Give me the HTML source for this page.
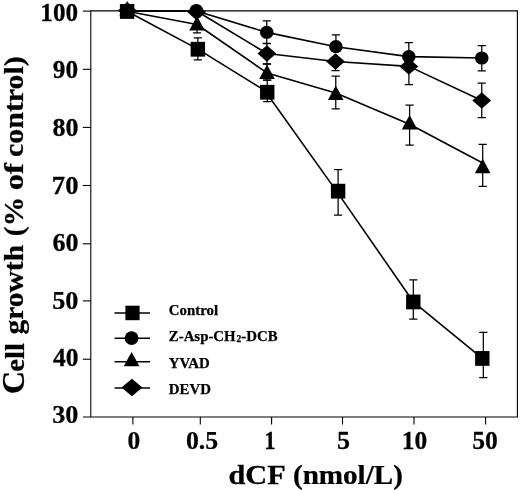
<!DOCTYPE html>
<html lang="en"><head><meta charset="utf-8"><title>Cell growth vs dCF</title>
<style>
html,body{margin:0;padding:0;background:#fff;}
body{width:520px;height:490px;overflow:hidden;}
svg{display:block;will-change:transform;filter:grayscale(1);}
text{font-family:"Liberation Serif", "Times New Roman", Times, serif;font-weight:bold;fill:#000;stroke:#000;stroke-width:0.25px;}
</style></head><body>
<svg width="520" height="490" viewBox="0 0 520 490">
<rect x="0" y="0" width="520" height="490" fill="#fff"/>
<g fill="none" stroke="#000" stroke-width="1.1" stroke-linecap="butt">
<path d="M90.8 10.35 V417.0 M90.8 10.9 H517.4 V417.55 M83.0 417.0 H517.4"/>
<path d="M82.8 11.1 H90.8"/>
<path d="M82.8 69.3 H90.8"/>
<path d="M82.8 127.4 H90.8"/>
<path d="M82.8 185.5 H90.8"/>
<path d="M82.8 243.8 H90.8"/>
<path d="M82.8 300.9 H90.8"/>
<path d="M82.8 359.2 H90.8"/>
<path d="M132.9 417.0 V424.5"/>
<path d="M200.3 417.0 V424.5"/>
<path d="M271.6 417.0 V424.5"/>
<path d="M342.5 417.0 V424.5"/>
<path d="M414.0 417.0 V424.5"/>
<path d="M485.6 417.0 V424.5"/>
</g>
<path d="M197.85 37.8 V59.9 M193.75 37.8 H201.95 M193.75 59.9 H201.95" fill="none" stroke="#000" stroke-width="1.25"/>
<path d="M267.25 80.2 V101.5 M263.15 80.2 H271.35 M263.15 101.5 H271.35" fill="none" stroke="#000" stroke-width="1.25"/>
<path d="M338.1 169.5 V215 M334.0 169.5 H342.20000000000005 M334.0 215 H342.20000000000005" fill="none" stroke="#000" stroke-width="1.25"/>
<path d="M413.3 279.9 V319.2 M409.2 279.9 H417.40000000000003 M409.2 319.2 H417.40000000000003" fill="none" stroke="#000" stroke-width="1.25"/>
<path d="M483.3 332.4 V377.5 M479.2 332.4 H487.40000000000003 M479.2 377.5 H487.40000000000003" fill="none" stroke="#000" stroke-width="1.25"/>
<path d="M266.75 20.8 V43.3 M262.65 20.8 H270.85 M262.65 43.3 H270.85" fill="none" stroke="#000" stroke-width="1.25"/>
<path d="M335.9 34.9 V50 M331.79999999999995 34.9 H340.0 M331.79999999999995 50 H340.0" fill="none" stroke="#000" stroke-width="1.25"/>
<path d="M408.8 42.5 V60 M404.7 42.5 H412.90000000000003 M404.7 60 H412.90000000000003" fill="none" stroke="#000" stroke-width="1.25"/>
<path d="M481.75 45.5 V70.75 M477.65 45.5 H485.85 M477.65 70.75 H485.85" fill="none" stroke="#000" stroke-width="1.25"/>
<path d="M197 16.5 V32.8 M192.9 16.5 H201.1 M192.9 32.8 H201.1" fill="none" stroke="#000" stroke-width="1.25"/>
<path d="M267 64.2 V80.2 M262.9 64.2 H271.1 M262.9 80.2 H271.1" fill="none" stroke="#000" stroke-width="1.25"/>
<path d="M335.75 76 V108.75 M331.65 76 H339.85 M331.65 108.75 H339.85" fill="none" stroke="#000" stroke-width="1.25"/>
<path d="M409.6 105 V145 M405.5 105 H413.70000000000005 M405.5 145 H413.70000000000005" fill="none" stroke="#000" stroke-width="1.25"/>
<path d="M482.7 144.25 V186.25 M478.59999999999997 144.25 H486.8 M478.59999999999997 186.25 H486.8" fill="none" stroke="#000" stroke-width="1.25"/>
<path d="M266.9 43.5 V63.9 M262.79999999999995 43.5 H271.0 M262.79999999999995 63.9 H271.0" fill="none" stroke="#000" stroke-width="1.25"/>
<path d="M335.5 60 V70.5 M331.4 60 H339.6 M331.4 70.5 H339.6" fill="none" stroke="#000" stroke-width="1.25"/>
<path d="M408.9 62 V84.5 M404.79999999999995 62 H413.0 M404.79999999999995 84.5 H413.0" fill="none" stroke="#000" stroke-width="1.25"/>
<path d="M481.75 83.2 V117.6 M477.65 83.2 H485.85 M477.65 117.6 H485.85" fill="none" stroke="#000" stroke-width="1.25"/>
<path d="M127.1 11.3 L197.85 49.1 L264.7 90.5 L338.1 193.4 L413.3 301.8 L482.3 358.3" fill="none" stroke="#000" stroke-width="1.6" stroke-linejoin="round"/>
<path d="M127 11.0 L196.4 11.0 L266.75 32.4 L335.9 46.7 L408.8 56.6 L481.75 58" fill="none" stroke="#000" stroke-width="1.6" stroke-linejoin="round"/>
<path d="M127 11.2 L197 24.5 L267 72.9 L335.75 93.0 L409.6 124.3 L482.7 163.0" fill="none" stroke="#000" stroke-width="1.6" stroke-linejoin="round"/>
<path d="M127 11.0 L196.4 11.0 L266.9 53.5 L335.5 61.5 L408.9 66.4 L481.75 100.5" fill="none" stroke="#000" stroke-width="1.6" stroke-linejoin="round"/>
<ellipse cx="127.2" cy="10.1" rx="6.8" ry="6.6" fill="#000"/>
<ellipse cx="196.3" cy="10.5" rx="6.8" ry="6.6" fill="#000"/>
<ellipse cx="266.75" cy="32.4" rx="6.8" ry="6.6" fill="#000"/>
<ellipse cx="335.9" cy="46.7" rx="6.8" ry="6.6" fill="#000"/>
<ellipse cx="408.8" cy="56.6" rx="6.8" ry="6.6" fill="#000"/>
<ellipse cx="481.75" cy="58" rx="6.8" ry="6.6" fill="#000"/>
<path d="M127.4 2.35 L136.80 10.6 L127.4 18.85 L118.00 10.6 Z" fill="#000"/>
<path d="M196.6 3.85 L206.00 12.1 L196.6 20.35 L187.20 12.1 Z" fill="#000"/>
<path d="M266.9 45.25 L276.30 53.5 L266.9 61.75 L257.50 53.5 Z" fill="#000"/>
<path d="M335.5 53.25 L344.90 61.5 L335.5 69.75 L326.10 61.5 Z" fill="#000"/>
<path d="M408.9 58.15 L418.30 66.4 L408.9 74.65 L399.50 66.4 Z" fill="#000"/>
<path d="M481.75 92.25 L491.15 100.5 L481.75 108.75 L472.35 100.5 Z" fill="#000"/>
<path d="M127.2 1.00 L135.00 15.40 L119.40 15.40 Z" fill="#000"/>
<path d="M197.0 16.00 L204.80 30.40 L189.20 30.40 Z" fill="#000"/>
<path d="M267 64.60 L274.80 79.00 L259.20 79.00 Z" fill="#000"/>
<path d="M335.75 85.50 L343.55 99.90 L327.95 99.90 Z" fill="#000"/>
<path d="M409.6 115.00 L417.40 129.40 L401.80 129.40 Z" fill="#000"/>
<path d="M482.7 158.75 L490.50 173.15 L474.90 173.15 Z" fill="#000"/>
<rect x="119.90" y="4.05" width="14.4" height="14.8" fill="#000"/>
<rect x="190.65" y="41.85" width="14.4" height="14.8" fill="#000"/>
<rect x="260.05" y="84.85" width="14.4" height="14.8" fill="#000"/>
<rect x="330.90" y="183.75" width="14.4" height="14.8" fill="#000"/>
<rect x="406.10" y="294.55" width="14.4" height="14.8" fill="#000"/>
<rect x="475.10" y="351.05" width="14.4" height="14.8" fill="#000"/>
<g stroke="#000" stroke-width="1.6" fill="none">
<path d="M114.5 313 H150"/>
<path d="M114.5 338.2 H150"/>
<path d="M114.5 361.8 H150"/>
<path d="M114.5 388 H150"/>
</g>
<rect x="125.40" y="305.70" width="14.2" height="14.5" fill="#000"/>
<ellipse cx="131.6" cy="338.2" rx="6.9" ry="6.9" fill="#000"/>
<path d="M131.6 352.00 L139.50 366.30 L123.70 366.30 Z" fill="#000"/>
<path d="M131.9 378.75 L142.40 387.5 L131.9 396.25 L121.40 387.5 Z" fill="#000"/>
<text x="168.8" y="314.9" font-size="14.85">Control</text>
<text x="168.8" y="341.4" font-size="14.85">Z-Asp-CH<tspan font-size="9.5" dx="0.8" dy="0.4">2</tspan><tspan dy="-0.4" dx="0.2">-DCB</tspan></text>
<text x="168.8" y="368.1" font-size="14.85">YVAD</text>
<text x="168.8" y="394.0" font-size="14.85">DEVD</text>
<text transform="translate(40.28 20.6) scale(0.9889 1)" font-size="25.5">100</text>
<text transform="translate(52.84 77.7) scale(0.9909 1)" font-size="25.5">90</text>
<text transform="translate(52.39 135.7) scale(1.0217 1)" font-size="25.5">80</text>
<text transform="translate(51.84 193.5) scale(1.0443 1)" font-size="25.5">70</text>
<text transform="translate(52.39 250.8) scale(1.0217 1)" font-size="25.5">60</text>
<text transform="translate(52.25 308.6) scale(1.0273 1)" font-size="25.5">50</text>
<text transform="translate(52.92 365.7) scale(1.0001 1)" font-size="25.5">40</text>
<text transform="translate(52.25 422.9) scale(1.0273 1)" font-size="25.5">30</text>
<text transform="translate(127.38 449.4) scale(0.9799 1)" font-size="26">0</text>
<text transform="translate(185.97 449.4) scale(0.9918 1)" font-size="26">0.5</text>
<text transform="translate(264.18 449.4) scale(0.8732 1)" font-size="26">1</text>
<text transform="translate(337.06 449.4) scale(1.0045 1)" font-size="26">5</text>
<text transform="translate(401.86 449.4) scale(0.9790 1)" font-size="26">10</text>
<text transform="translate(472.23 449.4) scale(0.9845 1)" font-size="26">50</text>
<g aria-label="axis titles">
<text transform="translate(228.39 483.6) scale(1.1404 1)" font-size="26.6">dCF</text>
<text transform="translate(292.99 483.6) scale(1.0932 1)" font-size="26.6">(nmol/L)</text>
<text transform="translate(23.5 394.1) rotate(-90) scale(1.014 1)"><tspan font-size="31.5">C</tspan><tspan font-size="28.2" dx="-0.7">ell</tspan></text>
<text transform="translate(23.3 334.54) rotate(-90) scale(1.0467 1)" font-size="28.2">growth</text>
<text transform="translate(23.3 236.13) rotate(-90) scale(1.0445 1)" font-size="28.2">(%</text>
<text transform="translate(23.3 190.31) rotate(-90) scale(1.1585 1)" font-size="28.2">of</text>
<text transform="translate(23.3 156.95) rotate(-90) scale(1.0606 1)" font-size="28.2">control)</text>
</g>
</svg></body></html>
